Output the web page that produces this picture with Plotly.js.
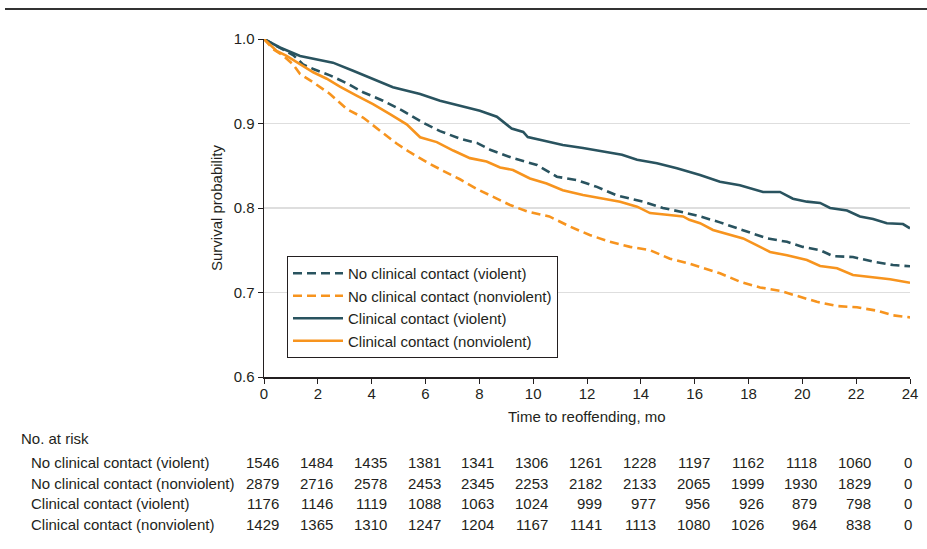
<!DOCTYPE html>
<html>
<head>
<meta charset="utf-8">
<script src="https://cdn.plot.ly/plotly-3.0.1.min.js"></script>
<style>html,body{margin:0;padding:0;background:#fff;}#chart{width:927px;height:549px;}</style>
</head>
<body>
<div id="chart"></div>
<script>
// Series names
const seriesNames = [
  "No clinical contact (violent)",
  "No clinical contact (nonviolent)",
  "Clinical contact (violent)",
  "Clinical contact (nonviolent)"
];

// No clinical contact (violent)
const ncvMonths = [0, 0.59, 1.08, 1.45, 1.83, 2.45, 3.08, 3.68, 4.42, 5.16, 5.9, 6.54, 7.28, 7.91, 8.4, 9.25, 10.14, 10.88, 11.63, 12.37, 13.1, 14.08, 14.82, 15.57, 16.2, 16.94, 17.94, 18.69, 19.43, 20.02, 20.66, 21.14, 21.88, 22.63, 23.37, 24];
const ncvSurv   = [1.0, 0.990, 0.981, 0.970, 0.9645, 0.957, 0.9475, 0.937, 0.927, 0.915, 0.901, 0.891, 0.882, 0.877, 0.869, 0.859, 0.851, 0.837, 0.833, 0.825, 0.815, 0.8075, 0.800, 0.795, 0.790, 0.783, 0.772, 0.764, 0.760, 0.754, 0.750, 0.743, 0.742, 0.7365, 0.7325, 0.731];

// No clinical contact (nonviolent)
const ncnMonths = [0, 0.34, 0.72, 1.08, 1.34, 1.83, 2.45, 3.08, 3.68, 4.31, 4.94, 5.42, 6.06, 6.65, 7.28, 7.91, 8.4, 9.14, 9.77, 10.6, 11.37, 12.1, 12.85, 13.6, 14.34, 15.08, 15.71, 16.2, 16.94, 17.68, 18.43, 19.17, 19.8, 20.54, 21.29, 22.03, 22.77, 23.37, 24];
const ncnSurv   = [1.0, 0.988, 0.980, 0.970, 0.9586, 0.9487, 0.935, 0.917, 0.907, 0.891, 0.876, 0.866, 0.854, 0.844, 0.834, 0.8225, 0.815, 0.8036, 0.796, 0.790, 0.778, 0.768, 0.760, 0.754, 0.750, 0.740, 0.735, 0.730, 0.7227, 0.7128, 0.706, 0.702, 0.696, 0.689, 0.684, 0.6825, 0.6785, 0.673, 0.6706];

// Clinical contact (violent)
const cvMonths = [0, 0.59, 1.34, 2.08, 2.56, 3.31, 4.05, 4.79, 5.8, 6.54, 7.28, 8.02, 8.65, 8.89, 9.2, 9.63, 9.8, 10.37, 11.1, 11.85, 12.6, 13.3, 13.86, 14.6, 15.34, 15.8, 16.2, 16.94, 17.68, 18.54, 19.17, 19.65, 20.17, 20.66, 21.03, 21.66, 22.14, 22.63, 23.14, 23.74, 24];
const cvSurv   = [1.0, 0.990, 0.980, 0.975, 0.972, 0.9625, 0.953, 0.943, 0.935, 0.927, 0.921, 0.915, 0.908, 0.902, 0.894, 0.890, 0.884, 0.880, 0.8746, 0.871, 0.867, 0.863, 0.857, 0.853, 0.847, 0.843, 0.839, 0.831, 0.827, 0.819, 0.819, 0.811, 0.8075, 0.806, 0.800, 0.797, 0.790, 0.787, 0.782, 0.781, 0.776];

// Clinical contact (nonviolent)
const cnMonths = [0, 0.47, 0.84, 1.34, 1.83, 2.33, 2.82, 3.44, 4.05, 4.68, 5.3, 5.8, 6.42, 7.03, 7.65, 8.27, 8.77, 9.25, 9.88, 10.5, 11.1, 11.85, 12.6, 13.23, 13.86, 14.34, 14.97, 15.57, 15.8, 16.2, 16.68, 17.3, 17.8, 18.3, 18.8, 19.43, 20.17, 20.66, 21.29, 21.88, 22.63, 23.26, 24];
const cnSurv   = [1.0, 0.986, 0.980, 0.970, 0.9606, 0.953, 0.9436, 0.933, 0.923, 0.911, 0.899, 0.8837, 0.878, 0.868, 0.859, 0.855, 0.848, 0.845, 0.835, 0.829, 0.821, 0.8154, 0.8115, 0.8075, 0.8016, 0.794, 0.792, 0.790, 0.786, 0.782, 0.774, 0.768, 0.764, 0.756, 0.748, 0.744, 0.7385, 0.7314, 0.7286, 0.7207, 0.718, 0.7156, 0.7116];

// Number at risk table
const riskMonths = [0, 2, 4, 6, 8, 10, 12, 14, 16, 18, 20, 22, 24];
const riskNcViolent    = [1546, 1484, 1435, 1381, 1341, 1306, 1261, 1228, 1197, 1162, 1118, 1060, 0];
const riskNcNonviolent = [2879, 2716, 2578, 2453, 2345, 2253, 2182, 2133, 2065, 1999, 1930, 1829, 0];
const riskCViolent     = [1176, 1146, 1119, 1088, 1063, 1024, 999, 977, 956, 926, 879, 798, 0];
const riskCNonviolent  = [1429, 1365, 1310, 1247, 1204, 1167, 1141, 1113, 1080, 1026, 964, 838, 0];

const yTicks = [0.6, 0.7, 0.8, 0.9, 1.0];
const xTicks = [0, 2, 4, 6, 8, 10, 12, 14, 16, 18, 20, 22, 24];

const TEAL = '#29535f';
const ORANGE = '#f7941e';
const FONT = 'Liberation Sans, Arial, sans-serif';
const TXT = '#231f20';

const traces = [
  {x: ncvMonths, y: ncvSurv, name: seriesNames[0], mode: 'lines', line: {color: TEAL, width: 2.6, dash: '9px,5px'}},
  {x: ncnMonths, y: ncnSurv, name: seriesNames[1], mode: 'lines', line: {color: ORANGE, width: 2.6, dash: '9px,5px'}},
  {x: cvMonths, y: cvSurv, name: seriesNames[2], mode: 'lines', line: {color: TEAL, width: 2.6}},
  {x: cnMonths, y: cnSurv, name: seriesNames[3], mode: 'lines', line: {color: ORANGE, width: 2.6}}
];

// plot area in pixels: left 264, right 910, top 39, bottom 377
const plotTop = 39, plotBottom = 377, plotLeft = 264, plotW = 646, plotH = plotBottom - plotTop;
const py = Y => (plotBottom - Y) / plotH;
const px = X => (X - plotLeft) / plotW;

const annotations = [];
annotations.push({text: 'Survival probability', xref: 'paper', yref: 'paper', x: px(216), y: 0.5, textangle: -90,
  showarrow: false, xanchor: 'center', yanchor: 'middle', font: {family: FONT, size: 15, color: TXT}});
annotations.push({text: 'Time to reoffending, mo', xref: 'paper', yref: 'paper', x: 0.5, y: py(416),
  showarrow: false, xanchor: 'center', yanchor: 'middle', font: {family: FONT, size: 15, color: TXT}});
annotations.push({text: 'No. at risk', xref: 'paper', yref: 'paper', x: px(19), y: py(438),
  showarrow: false, xanchor: 'left', yanchor: 'middle', font: {family: FONT, size: 15, color: TXT}});

const rows = [riskNcViolent, riskNcNonviolent, riskCViolent, riskCNonviolent];
const rowY = [462.5, 483, 503.5, 524];
rows.forEach((row, i) => {
  annotations.push({text: seriesNames[i], xref: 'paper', yref: 'paper', x: px(29), y: py(rowY[i]),
    showarrow: false, xanchor: 'left', yanchor: 'middle', font: {family: FONT, size: 15, color: TXT}});
  row.forEach((v, j) => {
    const last = j === row.length - 1;
    annotations.push({text: String(v), xref: 'x', yref: 'paper', x: riskMonths[j], y: py(rowY[i]),
      xshift: last ? -2 : 17, showarrow: false, xanchor: last ? 'center' : 'right', yanchor: 'middle',
      font: {family: FONT, size: 15, color: TXT}});
  });
});

const layout = {
  width: 927, height: 549,
  margin: {l: plotLeft, r: 927 - 910, t: plotTop, b: 549 - plotBottom, pad: 0},
  paper_bgcolor: '#fff', plot_bgcolor: '#fff',
  font: {family: FONT, size: 15, color: TXT},
  showlegend: true,
  legend: {x: px(287), y: py(256), xanchor: 'left', yanchor: 'top', bgcolor: '#fff',
    bordercolor: '#231f20', borderwidth: 1, font: {family: FONT, size: 15, color: TXT},
    itemwidth: 50, tracegroupgap: 0},
  xaxis: {range: [0, 24], tickvals: xTicks, ticktext: xTicks.map(String), showgrid: false, zeroline: false,
    showline: true, linecolor: '#231f20', linewidth: 1.5, ticks: 'outside', ticklen: 5, tickcolor: '#231f20',
    ticklabelstandoff: -3,
    tickfont: {family: FONT, size: 15, color: TXT}, fixedrange: true},
  yaxis: {range: [0.6, 1.0], tickvals: yTicks, ticktext: yTicks.map(v => v.toFixed(1)), showgrid: true,
    gridcolor: '#dedede', gridwidth: 1.5, zeroline: false, showline: true, linecolor: '#231f20', linewidth: 1.5,
    ticks: 'outside', ticklen: 5, tickcolor: '#231f20', tickfont: {family: FONT, size: 15, color: TXT}, fixedrange: true},
  shapes: [{type: 'line', xref: 'paper', yref: 'paper', x0: px(5), x1: px(927), y0: py(9), y1: py(9),
    line: {color: '#333', width: 2}}],
  annotations: annotations
};

Plotly.newPlot('chart', traces, layout, {displayModeBar: false, staticPlot: true});
</script>
</body>
</html>
